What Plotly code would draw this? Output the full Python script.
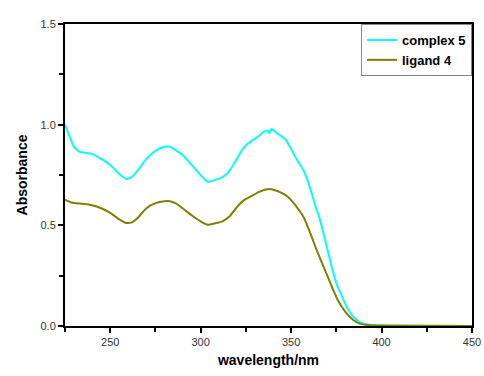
import plotly.graph_objects as go

wl_complex = [225, 228, 230, 233, 235, 240, 245, 250, 255, 259, 262, 265, 270, 275, 280, 283, 285, 290, 295, 300,
              304, 308, 312, 315, 320, 323, 326, 330, 333, 335, 337, 338, 339, 342, 345, 347, 350, 353, 357, 360,
              363, 366, 369, 372, 375, 378, 381, 384, 387, 390, 395, 400, 410, 420, 450]
abs_complex = [1.00, 0.93, 0.89, 0.865, 0.862, 0.855, 0.83, 0.80, 0.755, 0.73, 0.74, 0.77, 0.83, 0.87, 0.89, 0.89, 0.88, 0.85, 0.80, 0.75,
               0.716, 0.725, 0.74, 0.76, 0.83, 0.875, 0.905, 0.93, 0.95, 0.965, 0.97, 0.958, 0.978, 0.96, 0.94, 0.925, 0.88, 0.83, 0.77, 0.70,
               0.61, 0.527, 0.42, 0.31, 0.213, 0.15, 0.09, 0.05, 0.025, 0.012, 0.005, 0.003, 0.002, 0.001, 0.0]

wl_ligand = [225, 228, 231, 235, 240, 245, 250, 255, 259, 262, 265, 270, 275, 280, 283, 286, 290, 295, 300, 304,
             308, 312, 316, 320, 324, 328, 332, 336, 338, 342, 345, 348, 351, 354, 357, 360, 364, 367, 370, 373,
             376, 380, 384, 388, 392, 396, 400, 410, 450]
abs_ligand = [0.627, 0.615, 0.61, 0.607, 0.60, 0.585, 0.562, 0.53, 0.512, 0.515, 0.535, 0.585, 0.61, 0.62, 0.62, 0.61, 0.585, 0.55, 0.52, 0.503,
              0.51, 0.52, 0.545, 0.59, 0.625, 0.645, 0.665, 0.678, 0.68, 0.672, 0.66, 0.643, 0.615, 0.58, 0.54, 0.475, 0.38, 0.315, 0.25, 0.185,
              0.125, 0.07, 0.032, 0.012, 0.005, 0.003, 0.002, 0.001, 0.0]

x_ticks = [250, 300, 350, 400, 450]
y_ticks = [0.0, 0.5, 1.0, 1.5]
y_tick_labels = ["0.0", "0.5", "1.0", "1.5"]

fig = go.Figure()
fig.add_trace(go.Scatter(x=wl_complex, y=abs_complex, mode="lines", name="<b>complex 5</b>",
                         line=dict(color="#00FFFF", width=2, shape="spline", smoothing=0.5)))
fig.add_trace(go.Scatter(x=wl_ligand, y=abs_ligand, mode="lines", name="<b>ligand 4</b>",
                         line=dict(color="#808000", width=2, shape="spline", smoothing=0.5)))

axis_common = dict(showline=True, linecolor="black", linewidth=2, mirror=True, showgrid=False,
                   zeroline=False, ticks="outside", ticklen=5, tickwidth=1.5, tickcolor="black",
                   automargin=False,
                   tickfont=dict(family="Liberation Sans, Arial", size=11, color="#333333"))

fig.update_layout(
    width=484, height=376,
    margin=dict(l=65, r=12, t=24, b=50, autoexpand=False),
    paper_bgcolor="white", plot_bgcolor="white",
    font=dict(family="Liberation Sans, Arial", color="black"),
    xaxis=dict(range=[225, 450], tickvals=x_ticks,
               minor=dict(tickvals=[225, 275, 325, 375, 425], ticks="outside", ticklen=4, tickwidth=1.5, tickcolor="black"),
               title=dict(text="<b>wavelength/nm</b>", font=dict(size=14), standoff=8),
               **axis_common),
    yaxis=dict(range=[0, 1.5], tickvals=y_ticks, ticktext=y_tick_labels,
               minor=dict(tickvals=[0.25, 0.75, 1.25], ticks="outside", ticklen=4, tickwidth=1.5, tickcolor="black"),
               title=dict(text="<b>Absorbance</b>", font=dict(size=14), standoff=10),
               **axis_common),
    legend=dict(x=1, y=1, xanchor="right", yanchor="top", bordercolor="#888888", borderwidth=1,
                bgcolor="white", font=dict(size=13, family="Liberation Sans, Arial"),
                tracegroupgap=0, itemwidth=30, entrywidth=116),
    showlegend=True,
)

fig.write_html("out.html", config={"displayModeBar": False},
               post_script="document.body.style.margin='0';document.body.style.overflow='hidden';")
